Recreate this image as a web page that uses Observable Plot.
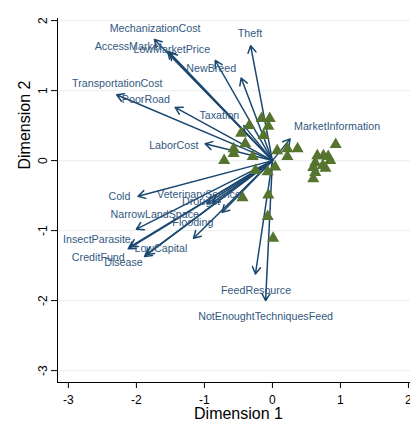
<!DOCTYPE html>
<html><head><meta charset="utf-8">
<script src="https://cdn.jsdelivr.net/npm/d3@7"></script>
<script src="https://cdn.jsdelivr.net/npm/@observablehq/plot@0.6"></script>
<style>body{margin:0;background:#fff} #chart svg{display:block}</style>
</head><body><div id="chart"></div>
<script>
// Variable vectors (arrow tips) and their label anchor points, in data units
const variables = ["MechanizationCost","AccessMarket","LowMarketPrice","Theft","NewBreed","","TransportationCost","PoorRoad","Taxation","LaborCost","MarketInformation","Cold","VeterinaryService","Drought","","NarrowLandSpace","Flooding","InsectParasite","CreditFund","LowCapital","Disease","FeedResource","NotEnoughtTechniquesFeed"];
const tipX =   [-1.735,-1.54,-1.51,-0.32,-0.84,-0.46,-2.29,-1.43,-0.42,-0.99,0.26,-1.975,-0.96,-0.88,-0.74,-2.00,-1.16,-2.09,-2.12,-1.85,-1.88,-0.25,-0.10];
const tipY =   [1.729,1.56,1.54,1.64,1.43,1.18,0.94,0.76,0.50,0.24,0.31,-0.51,-0.61,-0.60,-0.74,-0.98,-1.11,-1.23,-1.26,-1.34,-1.37,-1.62,-2.00];
const labelX = [-1.725,-2.12,-1.48,-0.33,-0.90,0,-2.28,-1.86,-0.78,-1.45,0.95,-2.25,-1.08,-1.05,0,-1.73,-1.17,-2.58,-2.56,-1.64,-2.19,-0.24,-0.10];
const labelY = [1.88,1.63,1.58,1.81,1.32,0,1.10,0.87,0.65,0.22,0.48,-0.52,-0.48,-0.59,0,-0.77,-0.89,-1.13,-1.39,-1.25,-1.45,-1.85,-2.23];

// Observations (triangles)
const obsX = [-0.16,-0.04,-0.34,-0.06,-0.46,-0.13,-0.40,-0.57,-0.57,-0.29,-0.71,0.07,0.22,0.37,0.22,0.04,-0.25,-0.07,-0.44,-0.06,-0.07,0.01,0.93,0.66,0.75,0.82,0.85,0.63,0.74,0.78,0.60,0.63,0.60];
const obsY = [0.60,0.60,0.50,0.49,0.39,0.36,0.24,0.17,0.10,0.06,0.00,0.14,0.17,0.17,0.06,-0.09,-0.14,-0.16,-0.53,-0.49,-0.80,-1.11,0.23,0.07,0.07,0.06,0.00,-0.03,-0.07,-0.11,-0.10,-0.17,-0.26];

const xTicks = [-3,-2,-1,0,1,2];
const yTicks = [-3,-2,-1,0,1,2];

const vectors = variables.map((name,i)=>({name, x:tipX[i], y:tipY[i], lx:labelX[i], ly:labelY[i]}));
const obs = obsX.map((x,i)=>({x, y:obsY[i]}));
const fmt = d => String(d);

const chart = Plot.plot({
  width: 410, height: 428,
  marginLeft: 57, marginRight: 0, marginTop: 18, marginBottom: 46,
  style: {fontFamily: "'Liberation Sans', Arial, sans-serif", background: "#fff", color: "#000"},
  x: {domain: [-3.16, 2.03]},
  y: {domain: [-3.17, 2.03]},
  marks: [
    Plot.gridY(yTicks, {stroke: "#eaf2f3", strokeOpacity: 1, strokeWidth: 1.2}),
    Plot.frame({anchor: "bottom", stroke: "#000"}),
    Plot.frame({anchor: "left", stroke: "#000"}),
    Plot.axisX(xTicks, {tickSize: 6, tickPadding: 7, fontSize: 12, label: null, tickFormat: fmt}),
    Plot.axisY(yTicks, {tickSize: 6, tickPadding: 5, tickRotate: -90, fontSize: 12, label: null, tickFormat: fmt}),
    Plot.arrow(vectors, {x1: 0, y1: 0, x2: "x", y2: "y", stroke: "#1a476f", strokeWidth: 1.5, headLength: 8}),
    Plot.dot(obs, {x: "x", y: "y", symbol: "triangle", r: 4.5, fill: "#55752f"}),
    Plot.text(vectors.filter(d => d.name), {x: "lx", y: "ly", text: "name", fontSize: 10.7, fill: "#33597f"}),
    Plot.text(["Dimension 1"], {frameAnchor: "bottom", dy: 36, dx: 4.5, fontSize: 16, fill: "#000"}),
    Plot.text(["Dimension 2"], {frameAnchor: "left", rotate: -90, dx: -33, dy: -31, fontSize: 16, fill: "#000"})
  ]
});
document.getElementById("chart").appendChild(chart);
</script>
</body></html>
